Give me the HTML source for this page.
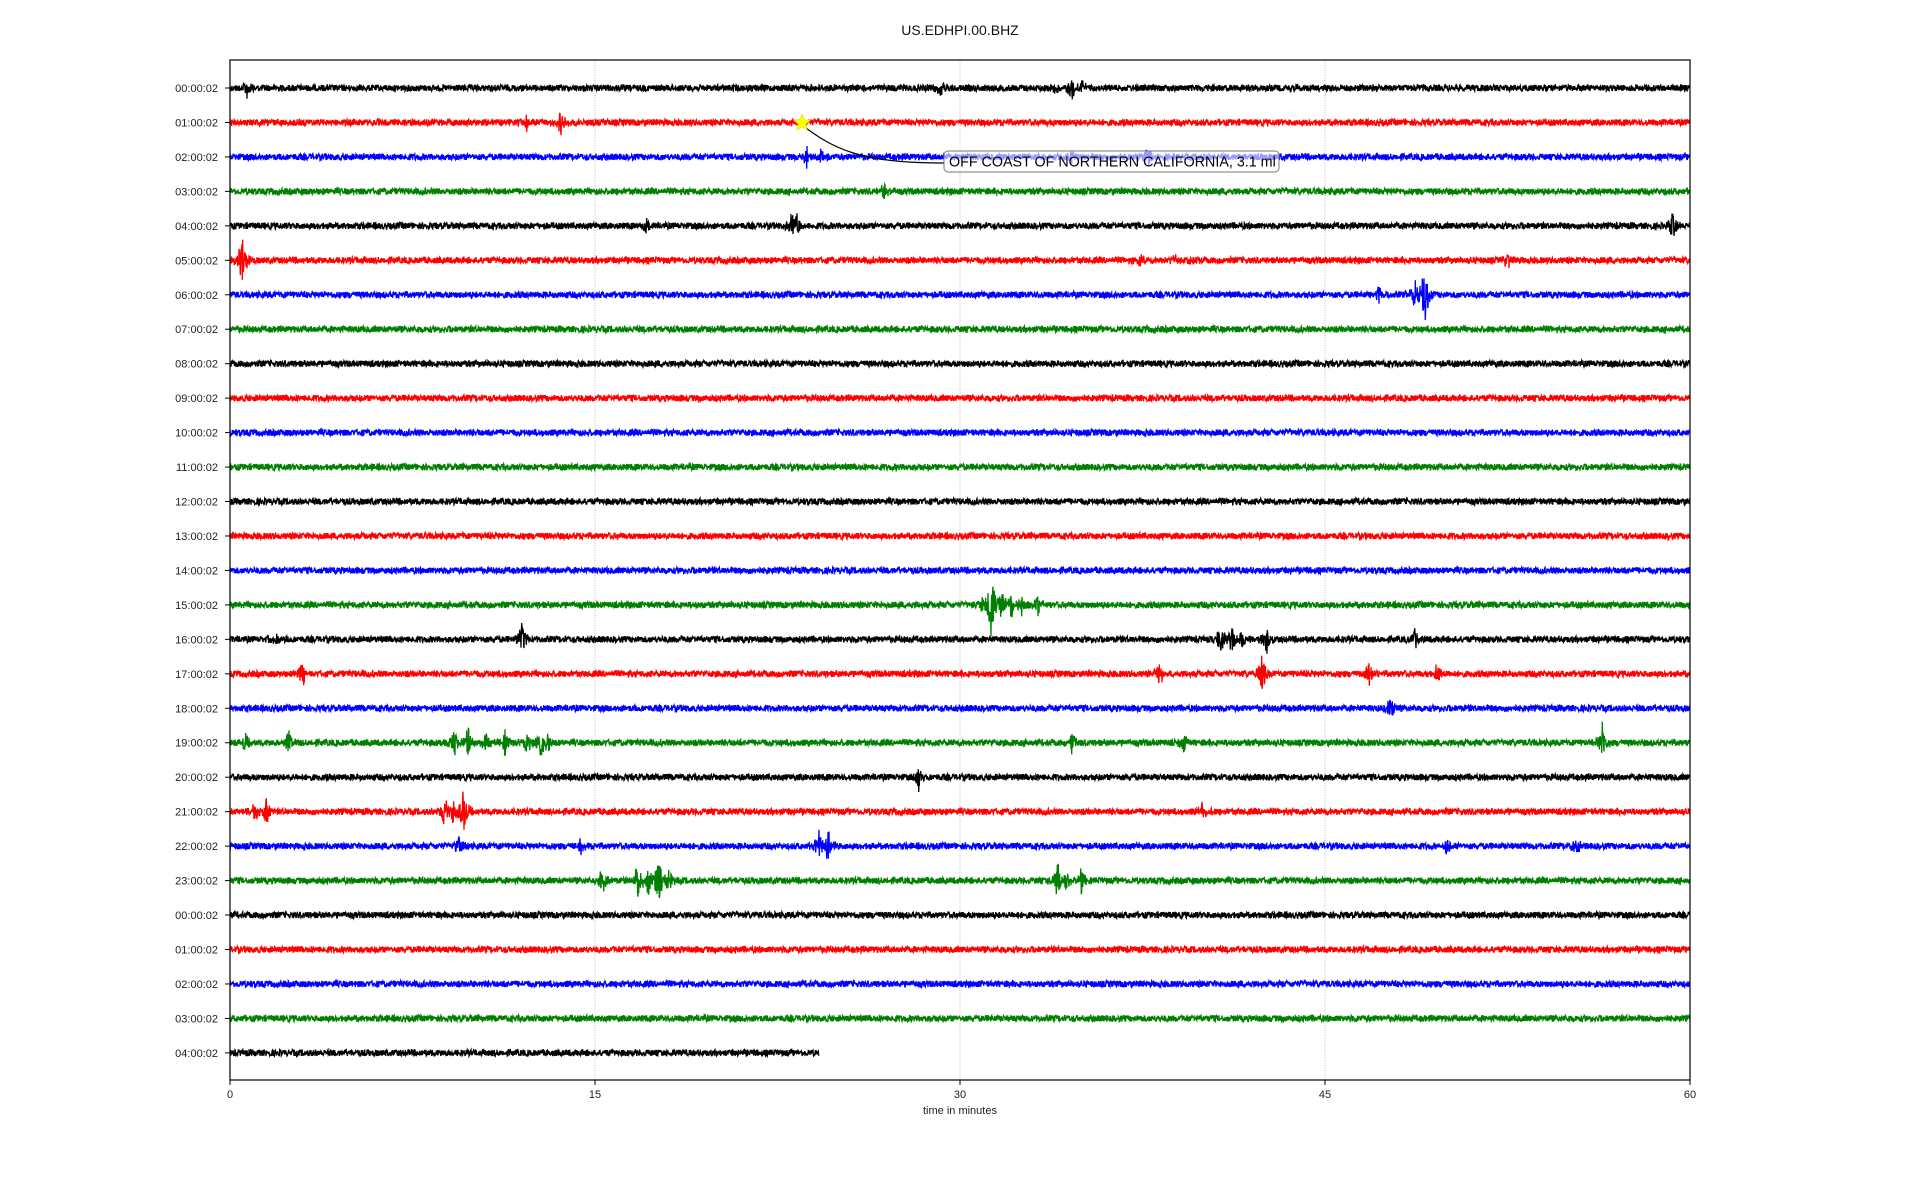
<!DOCTYPE html>
<html><head><meta charset="utf-8"><style>
html,body{margin:0;padding:0;background:#fff;width:1920px;height:1200px;overflow:hidden;font-family:"Liberation Sans","DejaVu Sans",sans-serif}
svg{display:block}
</style></head><body>
<svg id="s" width="1920" height="1200" xmlns="http://www.w3.org/2000/svg">
<rect width="1920" height="1200" fill="#fff"/>
<g id="grid" stroke="#b0b0b0" stroke-width="0.8" stroke-dasharray="1,1.5">
<line x1="595" y1="60" x2="595" y2="1080"/><line x1="960" y1="60" x2="960" y2="1080"/><line x1="1325" y1="60" x2="1325" y2="1080"/>
</g>
<g id="traces"></g>
<rect x="230" y="60" width="1460" height="1020" fill="none" stroke="#000" stroke-width="1.2"/>
<g id="labels" font-size="11" fill="#222" text-anchor="end"></g>
<g font-size="11" fill="#222" text-anchor="middle">
<text x="230" y="1098">0</text><text x="595" y="1098">15</text><text x="960" y="1098">30</text><text x="1325" y="1098">45</text><text x="1690" y="1098">60</text>
<text x="960" y="1114">time in minutes</text>
</g>
<g stroke="#000" stroke-width="1">
<line x1="230" y1="1080" x2="230" y2="1085"/><line x1="595" y1="1080" x2="595" y2="1085"/><line x1="960" y1="1080" x2="960" y2="1085"/><line x1="1325" y1="1080" x2="1325" y2="1085"/><line x1="1690" y1="1080" x2="1690" y2="1085"/>
</g>
<text x="960" y="35" font-size="14" text-anchor="middle" fill="#111">US.EDHPI.00.BHZ</text>
<path d="M802,125 C832,148 860,163 939,163 L944,163" fill="none" stroke="#000" stroke-width="1.2"/>
<polygon id="star" fill="#ffff00" stroke="#e0d000" stroke-width="0.5"/>
<rect x="944" y="151" width="335" height="21" rx="4" fill="rgba(255,255,255,0.6)" stroke="#777" stroke-width="1"/>
<text x="949" y="166.5" font-size="14.3" fill="#000">OFF COAST OF NORTHERN CALIFORNIA, 3.1 ml</text>
</svg>
<script>
(function(){
var NS="http://www.w3.org/2000/svg";
var seed=12345;function r(){seed=(seed*1103515245+12345)&0x7fffffff;return seed/0x7fffffff;}
var colors=["#000","#f00","#00f","#008000"];
var x0=230,px=1460/60,y0=88,dy=34.46;
var ev={0:[[0.7,12],[29.2,12],[34,8],[34.6,12],[35,10]],1:[[12.2,8],[13.6,12]],2:[[23.7,10],[24.3,10],[34.6,8],[37.7,12]],3:[[26.9,10]],4:[[17.1,12],[23.1,15],[23.3,15],[59.3,15]],5:[[0.5,30],[37.4,8],[52.5,10],[38.8,6],[39.6,6]],6:[[47.2,10],[48.7,15],[49.1,35]],15:[[31.3,45],[31.7,15],[32.1,15],[32.5,12],[33.2,10],[30.9,8]],16:[[1.9,8],[12,20],[40.7,15],[41.2,15],[41.6,12],[42.6,15],[48.7,10]],17:[[3,15],[38.2,15],[42.4,20],[46.8,12],[49.6,12]],18:[[47.7,15]],19:[[0.6,10],[2.4,12],[9.2,15],[9.8,18],[10.5,12],[11.3,12],[12.2,12],[12.8,15],[13.1,12],[34.6,12],[39.2,12],[56.4,20]],20:[[28.3,15]],21:[[1,10],[1.5,15],[8.8,20],[9.2,14],[9.6,25],[40,15]],22:[[9.4,12],[14.4,8],[24.2,18],[24.6,18],[50,10],[55.3,12]],23:[[15.3,15],[16.8,25],[17.2,15],[17.6,25],[18,12],[34,20],[34.4,12],[35,15]]};
var labels=document.getElementById("labels"),tr=document.getElementById("traces");
for(var i=0;i<29;i++){
 var y=y0+i*dy,h=i%24;
 var t=document.createElementNS(NS,"text");t.setAttribute("x",218);t.setAttribute("y",y+4);
 t.textContent=(h<10?"0":"")+h+":00:02";labels.appendChild(t);
 var tk=document.createElementNS(NS,"line");tk.setAttribute("x1",225);tk.setAttribute("x2",230);tk.setAttribute("y1",y);tk.setAttribute("y2",y);tk.setAttribute("stroke","#000");labels.appendChild(tk);
 var end=(i==28)?24.2:60,n=Math.floor(end*px*3),E=ev[i]||[];
 var d="";
 for(var k=0;k<=n;k++){
  var x=x0+k/3,m=(x-x0)/px,a=(r()*2-1)*3.2;
  for(var j=0;j<E.length;j++){var dd=Math.abs(m-E[j][0])*px;if(dd<10){var env=Math.exp(-dd/3);a+=(r()*2-1)*E[j][1]*env;}}
  d+=(k?"L":"M")+x.toFixed(1)+","+(y+a).toFixed(1);
 }
 var p=document.createElementNS(NS,"path");p.setAttribute("d",d);p.setAttribute("fill","none");p.setAttribute("stroke",colors[i%4]);p.setAttribute("stroke-width","1.3");tr.appendChild(p);
}
var cx=802,cy=123,pts=[];
for(var k=0;k<10;k++){var rr=k%2?4:9,an=-Math.PI/2+k*Math.PI/5;pts.push((cx+rr*Math.cos(an)).toFixed(1)+","+(cy+rr*Math.sin(an)).toFixed(1));}
document.getElementById("star").setAttribute("points",pts.join(" "));
})();
</script>
</body></html>
